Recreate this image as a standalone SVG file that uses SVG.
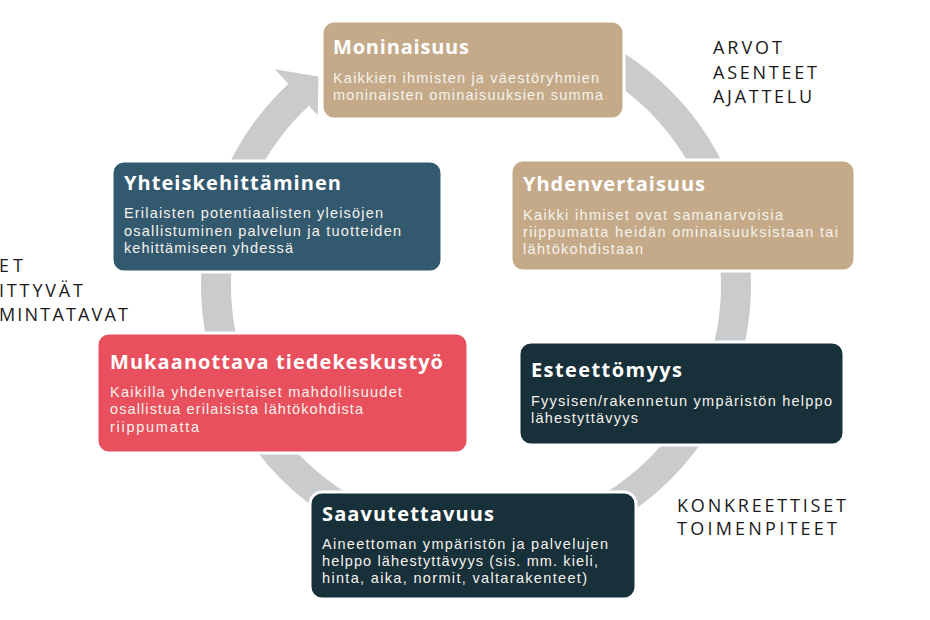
<svg xmlns="http://www.w3.org/2000/svg" width="930" height="620" viewBox="0 0 930 620">
<style>
.box{stroke:#ffffff;stroke-width:3}
.tan{fill:#C4AA89}
.blue{fill:#33596F}
.red{fill:#E8505D}
.dark{fill:#17303A}
.t{font-family:"Open Sans","Liberation Sans",sans-serif;font-weight:700;font-size:20px;fill:#ffffff}
.b{font-family:"Liberation Sans","Open Sans",sans-serif;font-size:14.5px;fill:#F6F2EC}
.s{font-family:"Open Sans","Liberation Sans",sans-serif;font-size:18px;fill:#1a1a1a}
</style>
<rect width="930" height="620" fill="#ffffff"/>
<g id="connectors">
<path d="M 556.3 37.7 A 260 260 0 1 1 298.7 94.8" fill="none" stroke="#C9CBCD" stroke-width="30"/>
<polygon points="274.8,69.3 318.4,76.4 317.8,115.3" fill="#C9CBCD"/>
</g>
<g id="labels">
<text class="s" x="713" y="54" textLength="69">ARVOT</text>
<text class="s" x="713" y="79" textLength="104">ASENTEET</text>
<text class="s" x="713" y="103" textLength="99">AJATTELU</text>
<text class="s" x="677" y="512" textLength="169">KONKREETTISET</text>
<text class="s" x="677" y="535" textLength="160">TOIMENPITEET</text>
<text class="s" x="23" y="272" text-anchor="end" textLength="24">ET</text>
<text class="s" x="83" y="297" text-anchor="end" textLength="84">ITTYVÄT</text>
<text class="s" x="128" y="321" text-anchor="end" textLength="129">MINTATAVAT</text>
</g>
<g id="moninaisuus">
<rect class="box tan" x="322" y="21" width="302" height="98" rx="12"/>
<text class="t" x="333" y="54" textLength="136">Moninaisuus</text>
<text class="b" x="333" y="83" textLength="266">Kaikkien ihmisten ja väestöryhmien</text>
<text class="b" x="333" y="100" textLength="270">moninaisten ominaisuuksien summa</text>
</g>
<g id="yhdenvertaisuus">
<rect class="box tan" x="511" y="160" width="344" height="111" rx="12"/>
<text class="t" x="523" y="191" textLength="182">Yhdenvertaisuus</text>
<text class="b" x="523" y="220" textLength="260">Kaikki ihmiset ovat samanarvoisia</text>
<text class="b" x="523" y="237" textLength="315">riippumatta heidän ominaisuuksistaan tai</text>
<text class="b" x="523" y="254" textLength="120">lähtökohdistaan</text>
</g>
<g id="yhteiskehittaminen">
<rect class="box blue" x="112" y="161" width="330" height="111" rx="12"/>
<text class="t" x="124" y="190" textLength="217">Yhteiskehittäminen</text>
<text class="b" x="124" y="218" textLength="259">Erilaisten potentiaalisten yleisöjen</text>
<text class="b" x="124" y="236" textLength="277">osallistuminen palvelun ja tuotteiden</text>
<text class="b" x="124" y="253" textLength="169">kehittämiseen yhdessä</text>
</g>
<g id="mukaanottava">
<rect class="box red" x="97" y="333" width="371" height="120" rx="12"/>
<text class="t" x="110" y="369" textLength="333">Mukaanottava tiedekeskustyö</text>
<text class="b" x="110" y="397" textLength="292">Kaikilla yhdenvertaiset mahdollisuudet</text>
<text class="b" x="110" y="414" textLength="253">osallistua erilaisista lähtökohdista</text>
<text class="b" x="110" y="432" textLength="89">riippumatta</text>
</g>
<g id="esteettomyys">
<rect class="box dark" x="519" y="342" width="325" height="103" rx="12"/>
<text class="t" x="531" y="377" textLength="151">Esteettömyys</text>
<text class="b" x="531" y="406" textLength="301">Fyysisen/rakennetun ympäristön helppo</text>
<text class="b" x="531" y="423" textLength="107">lähestyttävyys</text>
</g>
<g id="saavutettavuus">
<rect class="box dark" x="310" y="492" width="326" height="107" rx="12"/>
<text class="t" x="322" y="521" textLength="172">Saavutettavuus</text>
<text class="b" x="322" y="549" textLength="286">Aineettoman ympäristön ja palvelujen</text>
<text class="b" x="322" y="566" textLength="276">helppo lähestyttävyys (sis. mm. kieli,</text>
<text class="b" x="322" y="583" textLength="265">hinta, aika, normit, valtarakenteet)</text>
</g>
</svg>
